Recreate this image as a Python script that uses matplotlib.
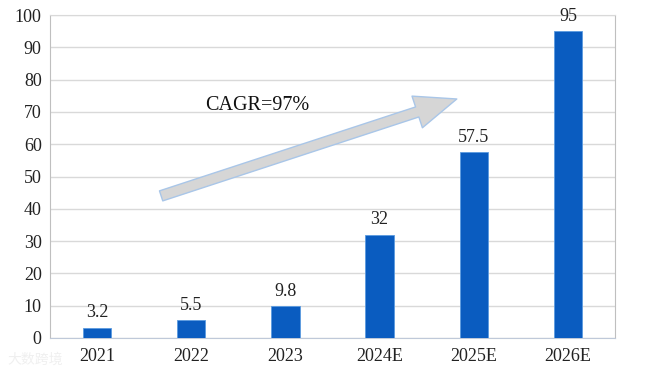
import matplotlib
matplotlib.use("Agg")
import matplotlib.pyplot as plt

categories = ["2021", "2022", "2023", "2024E", "2025E", "2026E"]
values = [3.2, 5.5, 9.8, 32, 57.5, 95]
value_labels = ["3.2", "5.5", "9.8", "32", "57.5", "95"]
yticks = [0, 10, 20, 30, 40, 50, 60, 70, 80, 90, 100]

plt.rcParams['font.family'] = ['Liberation Serif', 'DejaVu Serif']

fig = plt.figure(figsize=(6.46, 3.77), dpi=100)
ax = fig.add_axes([50/646, 1 - 338/377, 565/646, 323/377])

x = list(range(len(categories)))
ax.bar(x, values, width=0.3, color='#0A5CC0', edgecolor='#5B9BE0', linewidth=0.6, zorder=3)
for xi, v, lab in zip(x, values, value_labels):
    ax.text(xi, v + 2, lab, ha='center', va='bottom', fontsize=13, color='#222222', zorder=4)

ax.set_xlim(-0.5, 5.5)
ax.set_ylim(0, 100)
ax.set_yticks(yticks)
ax.set_xticks(x)
ax.set_xticklabels(categories)
ax.tick_params(axis='both', length=0, labelsize=13, colors='#222222')
ax.tick_params(axis='x', pad=7)
ax.tick_params(axis='y', pad=6)
ax.grid(axis='y', color='#D9D9D9', linewidth=1.0, zorder=0)
for side in ['left', 'right']:
    ax.spines[side].set_color('#BFBFBF')
ax.spines['top'].set_color('#D9D9D9')
ax.spines['bottom'].set_color('#BFC9D9')

# growth arrow
ax.annotate('', xy=(3.82, 74), xytext=(0.68, 44),
            arrowprops=dict(arrowstyle='simple,head_length=1.5,head_width=1.2,tail_width=0.38',
                            mutation_scale=20, facecolor='#D6D6D6', edgecolor='#A9C6E8',
                            linewidth=1.0, shrinkA=0, shrinkB=0),
            zorder=2)
ax.text(1.15, 72, "CAGR=97%", ha='left', va='center', fontsize=14.5, color='#111111', zorder=4)

fig.text(0.012, 0.035, "大数跨境", family=['Noto Sans CJK SC', 'DejaVu Sans'],
         fontsize=10, color='#EEEEEE', alpha=0.9)

fig.savefig("out.png", dpi=100, facecolor='white')
